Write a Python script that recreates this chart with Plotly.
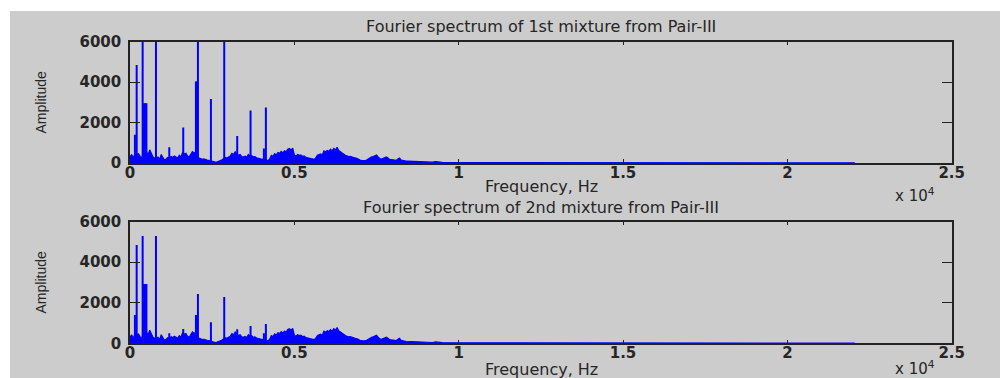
import plotly.graph_objects as go

# ---------------- data ----------------
# spectral envelope sampled every 50 Hz up to 9 kHz, then the flat tail up to Fs/2
env_freq = list(range(0, 9001, 50)) + [9100, 9200, 9300, 9400, 9500,
                                        10000, 12000, 15000, 18000, 22050]

env_amp_1 = [
    300, 420, 250, 450, 300, 480, 350, 200, 500, 300,
    550, 400, 650, 500, 300, 250, 200, 300, 180, 420,
    250, 150, 200, 280, 250, 320, 280, 350, 300, 250,
    380, 300, 520, 450, 480, 350, 300, 420, 560, 500,
    520, 400, 250, 220, 180, 200, 160, 150, 130, 110,
    90, 60, 40, 60, 80, 120, 160, 200, 280, 250,
    300, 350, 480, 420, 560, 450, 380, 420, 320, 300,
    340, 280, 420, 350, 380, 300, 320, 260, 250, 220,
    200, 180, 150, 140, 120, 200, 380, 330, 460, 400,
    520, 480, 580, 500, 600, 550, 680, 720, 650, 740,
    400, 350, 420, 380, 400, 330, 350, 280, 260, 230,
    210, 200, 180, 250, 380, 420, 450, 400, 600, 550,
    620, 580, 680, 600, 720, 650, 780, 620, 550, 480,
    420, 380, 350, 320, 330, 290, 270, 250, 230, 180,
    150, 130, 110, 120, 150, 200, 270, 300, 320, 380,
    400, 300, 220, 200, 240, 280, 300, 250, 180, 170,
    150, 140, 130, 200, 250, 150, 120, 110, 100, 95,
    90, 85, 80, 75, 70, 65, 60, 55, 55, 50,
    50,
    45, 40, 70, 35, 30,
    25, 20, 15, 12, 10]

env_amp_2 = [
    300, 420, 250, 450, 300, 480, 350, 200, 500, 300,
    550, 400, 650, 500, 300, 250, 200, 300, 180, 420,
    250, 150, 200, 280, 250, 320, 280, 350, 300, 250,
    380, 300, 520, 450, 480, 350, 300, 420, 560, 500,
    520, 400, 250, 220, 180, 200, 160, 150, 130, 110,
    90, 60, 40, 60, 80, 120, 160, 200, 280, 250,
    300, 350, 480, 420, 560, 450, 380, 420, 320, 300,
    340, 280, 420, 350, 380, 300, 320, 260, 250, 220,
    200, 180, 150, 140, 120, 200, 380, 330, 460, 400,
    520, 480, 580, 500, 600, 550, 680, 720, 650, 740,
    400, 350, 420, 380, 400, 330, 350, 280, 260, 230,
    210, 200, 180, 250, 380, 420, 450, 400, 600, 550,
    620, 580, 680, 600, 720, 650, 780, 620, 550, 480,
    420, 380, 350, 320, 330, 290, 270, 250, 230, 180,
    150, 130, 110, 120, 150, 200, 270, 300, 320, 380,
    400, 300, 220, 200, 240, 280, 300, 250, 180, 170,
    150, 140, 130, 200, 250, 150, 120, 110, 100, 95,
    90, 85, 80, 75, 70, 65, 60, 55, 55, 50,
    50,
    45, 40, 70, 35, 30,
    25, 20, 15, 12, 10]

# isolated spectral lines (Hz, amplitude); values above 6000 are clipped by the axis
peak_freq_1 = [150, 203, 385, 410, 440, 470, 500, 790, 1195, 1620,
               2006, 2030, 2067, 2462, 2867, 3262, 3668, 4074, 4134]
peak_amp_1 = [1400, 4850, 7500, 2950, 2950, 2950, 2950, 7500, 780, 1750,
              4030, 4030, 7500, 3170, 7500, 1340, 2600, 720, 2740]

peak_freq_2 = [150, 203, 385, 410, 440, 470, 500, 790, 1195, 1620,
               2006, 2030, 2067, 2462, 2867, 3262, 3668, 4074, 4134]
peak_amp_2 = [1400, 4850, 5300, 2920, 2920, 2920, 2920, 5300, 500, 700,
              1400, 1400, 2430, 1035, 2280, 690, 850, 500, 950]

x_tickvals = [0, 5000, 10000, 15000, 20000, 25000]
x_ticktext = ["0", "0.5", "1", "1.5", "2", "2.5"]
y_tickvals = [0, 2000, 4000, 6000]
y_ticktext = ["0", "2000", "4000", "6000"]

titles = ["Fourier spectrum of 1st mixture from Pair-III",
          "Fourier spectrum of 2nd mixture from Pair-III"]

# ---------------- figure ----------------
W, H = 1005, 378
BLUE = "#0000ff"
TXT = "#262626"
FONT = "DejaVu Sans"


def stems(freqs, amps):
    xs, ys = [], []
    for f, a in zip(freqs, amps):
        xs += [f, f, None]
        ys += [0, a, None]
    return xs, ys


fig = go.Figure()

for k, (env, pf, pa) in enumerate([(env_amp_1, peak_freq_1, peak_amp_1),
                                    (env_amp_2, peak_freq_2, peak_amp_2)]):
    xa = "x" if k == 0 else "x2"
    ya = "y" if k == 0 else "y2"
    fig.add_trace(go.Scatter(x=env_freq, y=env, mode="lines", fill="tozeroy",
                             line=dict(color=BLUE, width=1.2), fillcolor=BLUE,
                             xaxis=xa, yaxis=ya, showlegend=False,
                             hoverinfo="skip"))
    sx, sy = stems(pf, pa)
    fig.add_trace(go.Scatter(x=sx, y=sy, mode="lines",
                             line=dict(color=BLUE, width=2),
                             xaxis=xa, yaxis=ya, showlegend=False,
                             hoverinfo="skip"))

x_dom = [130 / W, 951.7 / W]
y_doms = [[1 - 163 / H, 1 - 41.7 / H], [1 - 343.3 / H, 1 - 221.7 / H]]

common_x = dict(range=[0, 25000], tickvals=x_tickvals, ticktext=x_ticktext,
                ticks="inside", ticklen=4, tickwidth=1.2, tickcolor="#222",
                showline=True, linecolor="#222", linewidth=1.5, mirror="ticks",
                showgrid=False, zeroline=False, domain=x_dom,
                ticklabelstandoff=-5,
                tickfont=dict(family=FONT, size=15, color=TXT, weight="bold"),
                fixedrange=True)
common_y = dict(range=[0, 6000], tickvals=y_tickvals, ticktext=y_ticktext,
                ticks="inside", ticklen=10, tickwidth=1.2, tickcolor="#222",
                showline=True, linecolor="#222", linewidth=1.5, mirror="ticks",
                showgrid=False, zeroline=False, ticklabelstandoff=4,
                tickfont=dict(family=FONT, size=15, color=TXT, weight="bold"),
                fixedrange=True)

fig.update_layout(
    width=W, height=H,
    margin=dict(l=0, r=0, t=0, b=0, autoexpand=False),
    paper_bgcolor="white", plot_bgcolor="white",
    xaxis=dict(common_x, anchor="y"),
    xaxis2=dict(common_x, anchor="y2"),
    yaxis=dict(common_y, domain=y_doms[0], anchor="x"),
    yaxis2=dict(common_y, domain=y_doms[1], anchor="x2"),
    shapes=[dict(type="rect", xref="paper", yref="paper",
                 x0=10 / W, x1=1000 / W, y0=0, y1=1 - 11 / H,
                 fillcolor="#cccccc", line=dict(width=0), layer="below")],
)

ann = []
title_y = [27, 207.5]
xlabel_y = [187, 369]
exp_y = [195, 368]
amp_y = [102.5, 282.5]
for k in range(2):
    ann.append(dict(text=titles[k], x=541 / W, y=1 - title_y[k] / H,
                    xref="paper", yref="paper", showarrow=False,
                    xanchor="center", yanchor="middle",
                    font=dict(family=FONT, size=16, color=TXT)))
    ann.append(dict(text="Frequency, Hz", x=541 / W, y=1 - xlabel_y[k] / H,
                    xref="paper", yref="paper", showarrow=False,
                    xanchor="center", yanchor="middle",
                    font=dict(family=FONT, size=16, color=TXT)))
    ann.append(dict(text="x 10<sup>4</sup>", x=893 / W, y=1 - exp_y[k] / H,
                    xref="paper", yref="paper", showarrow=False,
                    xanchor="left", yanchor="middle",
                    font=dict(family=FONT, size=15, color=TXT)))
    ann.append(dict(text="Amplitude", x=40 / W, y=1 - amp_y[k] / H,
                    xref="paper", yref="paper", showarrow=False,
                    textangle=-90, xanchor="center", yanchor="middle",
                    font=dict(family="Liberation Sans", size=14, color=TXT)))
fig.update_layout(annotations=ann)

fig.write_html("out.html")
